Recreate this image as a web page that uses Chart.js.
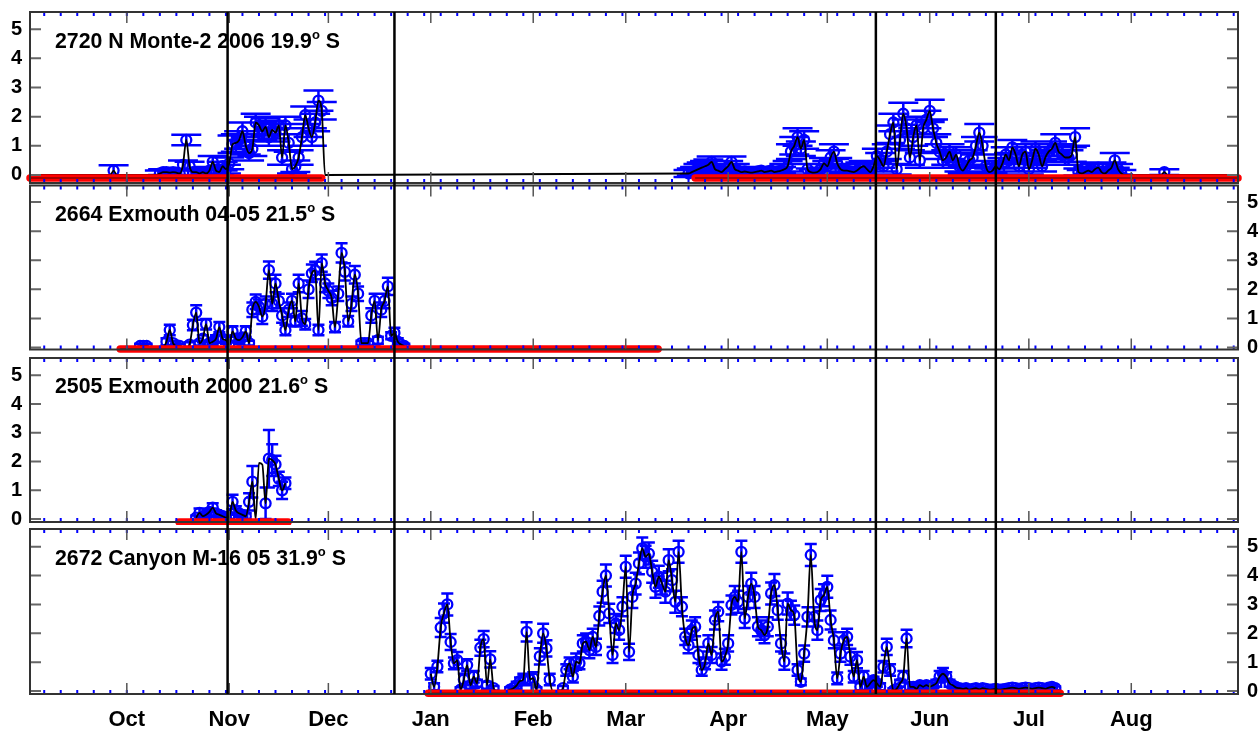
<!DOCTYPE html>
<html><head><meta charset="utf-8">
<script src="https://cdn.jsdelivr.net/npm/chart.js@4.4.1/dist/chart.umd.min.js"></script>
<style>
html,body{margin:0;padding:0;background:#fff;width:1260px;height:734px;overflow:hidden;}
canvas{position:absolute;left:0;display:block;}
.title{position:absolute;left:55px;font:bold 21.3px "Liberation Sans",Arial,sans-serif;color:#000;white-space:nowrap;line-height:21px;z-index:5;}
.title sup{font-size:13px;line-height:0;vertical-align:0;position:relative;top:-9px;}
</style></head><body>
<canvas id="c1" width="1260" height="184" style="top:0px"></canvas>
<canvas id="c2" width="1260" height="170" style="top:184px"></canvas>
<canvas id="c3" width="1260" height="171" style="top:354px"></canvas>
<canvas id="c4" width="1260" height="209" style="top:525px"></canvas>
<div class="title" style="top:31px">2720 N Monte-2 2006 19.9<sup>o</sup> S</div>
<div class="title" style="top:204px">2664 Exmouth 04-05 21.5<sup>o</sup> S</div>
<div class="title" style="top:376px">2505 Exmouth 2000 21.6<sup>o</sup> S</div>
<div class="title" style="top:548px">2672 Canyon M-16 05 31.9<sup>o</sup> S</div>
<script>
// ---- axis / category data (x = days since 1 Sep) ----
const monthNames = ['Oct','Nov','Dec','Jan','Feb','Mar','Apr','May','Jun','Jul','Aug'];
const monthStarts = [30,61,91,122,153,181,212,242,273,303,334];
const markerDays = [60.5,111,256.7,293];
const yTickValues = [0,1,2,3,4,5];

// ---- Panel 1: 2720 N Monte-2 2006 ----
const p1aStart = 24;
const p1aValues = [0,0,0.15,0,
 0,0,0,0,0,0,0,0,0,0,0,0,
 0.05,0.1,0.1,0.08,0.1,0.08,0.05,0.35,1.2,0.3,
 0.1,0.1,0.05,0.1,0.05,0.15,0.45,0.15,0.1,0.3,
 0.2,0.4,1.05,1.1,1.2,1.5,1.0,0.75,0.9,1.8,
 1.7,1.5,1.65,1.3,1.55,1.45,1.7,0.6,1.7,1.1,
 0.2,0.3,0.6,1.3,2.05,1.6,1.3,1.8,2.55,2.2,
 0];
const p1aErrors = [0,0,0.18,0,
 0,0,0,0,0,0,0,0,0,0,0,0,
 0.1,0.1,0.1,0.1,0.1,0.1,0.1,0.15,0.18,0.15,
 0.1,0.1,0.1,0.1,0.1,0.12,0.2,0.12,0.1,0.15,
 0.15,0.2,0.3,0.3,0.3,0.3,0.3,0.25,0.25,0.3,
 0.3,0.3,0.3,0.3,0.3,0.3,0.3,0.25,0.3,0.3,
 0.15,0.2,0.25,0.3,0.3,0.3,0.3,0.3,0.35,0.3,
 0];
const p1bStart = 200;
const p1bValues = [
 0.05,0.1,0.15,0.2,0.25,0.3,0.35,0.45,0.2,0.15,
 0.1,0.2,0.3,0.45,0.2,0.15,0.1,0.12,0.1,0.08,
 0.1,0.12,0.15,0.1,0.12,0.15,0.1,0.12,0.15,0.2,
 0.3,0.8,1.0,1.3,0.9,1.2,0.2,0.1,0.08,0.1,
 0.2,0.4,0.3,0.6,0.8,0.4,0.2,0.15,0.15,0.12,
 0.1,0.15,0.25,0.3,0.2,0.1,0.3,0.65,0.5,0.3,
 0.8,1.4,1.8,0.2,1.2,2.1,1.6,0.6,1.3,1.7,
 0.5,1.6,1.9,2.2,1.6,1.1,0.8,0.5,0.6,0.8,
 0.5,0.7,0.3,0.15,0.3,0.5,0.6,1.0,1.45,1.0,
 0.3,0.1,0.15,0.3,0.2,0.4,0.7,0.5,0.95,0.7,
 0.3,0.7,0.8,0.2,0.5,0.9,0.7,0.3,0.6,0.8,
 0.9,1.1,0.8,0.7,0.6,0.6,0.7,1.3,0.1,0.05,
 0.1,0.15,0.1,0.2,0.25,0.1,0.05,0.15,0.25,0.5,
 0.2,0.05,0,0,0,0,0,0,0,0,
 0,0,0,0,0.1,0];
const p1bErrors = [
 0.12,0.12,0.12,0.18,0.18,0.18,0.18,0.18,0.18,0.12,
 0.12,0.18,0.18,0.18,0.18,0.12,0.12,0.12,0.12,0.12,
 0.12,0.12,0.12,0.12,0.12,0.12,0.12,0.12,0.12,0.18,
 0.18,0.25,0.3,0.3,0.25,0.3,0.18,0.12,0.12,0.12,
 0.18,0.18,0.18,0.25,0.25,0.18,0.18,0.12,0.12,0.12,
 0.12,0.12,0.18,0.18,0.18,0.12,0.18,0.25,0.25,0.18,
 0.25,0.3,0.3,0.18,0.3,0.38,0.3,0.25,0.3,0.3,
 0.25,0.3,0.3,0.38,0.3,0.3,0.25,0.25,0.25,0.25,
 0.25,0.25,0.18,0.12,0.18,0.25,0.25,0.3,0.3,0.3,
 0.18,0.12,0.12,0.18,0.18,0.18,0.25,0.25,0.25,0.25,
 0.18,0.25,0.25,0.18,0.25,0.25,0.25,0.18,0.25,0.25,
 0.25,0.3,0.25,0.25,0.25,0.25,0.25,0.3,0.12,0.12,
 0.12,0.12,0.12,0.18,0.18,0.12,0.12,0.12,0.18,0.25,
 0.18,0.12,0,0,0,0,0,0,0,0,
 0,0,0,0,0.1,0];
const p1Coverage = [[0.7,89],[202,366.3]];

// ---- Panel 2: 2664 Exmouth 04-05 ----
const p2Start = 34;
const p2Values = [
 0.05,0.05,0.05,0,0,0,0,0,0.2,0.6,
 0.15,0.05,0.05,0,0,0.1,0.77,1.2,0.15,0.3,
 0.8,0.15,0.2,0.3,0.7,0.3,0.25,0.1,0.55,0.3,
 0.25,0.35,0.55,0.15,1.3,1.57,1.4,1.06,1.5,2.66,
 1.5,2.2,1.6,1.1,0.6,1.3,1.6,0.9,2.2,1.0,
 0.8,2.0,2.55,2.65,0.6,2.9,2.2,1.95,1.7,0.7,
 1.85,3.25,2.6,0.9,1.5,2.5,1.85,0.15,0.15,0.15,
 1.1,1.6,0.25,1.3,1.6,2.1,0.4,0.5,0.2,0.1,
 0.05];
const p2Errors = [
 0.08,0.08,0.08,0,0,0,0,0,0.12,0.18,
 0.08,0.08,0.08,0,0,0.08,0.18,0.25,0.08,0.12,
 0.18,0.08,0.12,0.12,0.18,0.12,0.12,0.08,0.18,0.12,
 0.12,0.12,0.18,0.08,0.25,0.25,0.25,0.25,0.25,0.3,
 0.25,0.3,0.25,0.25,0.18,0.25,0.25,0.18,0.3,0.25,
 0.18,0.3,0.3,0.3,0.18,0.3,0.3,0.25,0.25,0.18,
 0.25,0.33,0.3,0.18,0.25,0.3,0.25,0.08,0.08,0.08,
 0.25,0.25,0.12,0.25,0.25,0.3,0.12,0.18,0.12,0.08,
 0.08];
const p2Coverage = [[28,190.8]];

// ---- Panel 3: 2505 Exmouth 2000 ----
const p3Start = 51;
const p3Values = [0.05,0.22,0.1,0.15,0.25,0.4,0.2,0.15,0.1,0.05,0.1,0.6,0.3,0.2,0.15,0.1,0.6,1.3,0,1.95,1.9,0.55,2.1,2.05,1.9,1.4,1.0,1.25];
const p3Errors = [0.08,0.15,0.1,0.1,0.12,0.15,0.1,0.1,0.08,0.08,0.1,0.25,0.15,0.1,0.1,0.1,0.3,0.55,0,0,0,0.55,1.0,0.55,0.3,0.25,0.3,0.2];
const p3Coverage = [[45.8,78.8]];

// ---- Panel 4: 2672 Canyon M-16 05 ----
const p4Start = 122;
const p4Values = [
 0.6,0.15,0.85,2.2,2.7,3.0,1.7,0.96,1.07,0.05,
 0.4,0.9,0.2,0.5,0.27,1.5,1.8,0.2,1.1,0.1,
 0,0,0,0,0.05,0.1,0.2,0.35,0.4,2.05,
 0.4,0.45,0.05,1.2,2.0,1.48,0.4,0,0,0,
 0.1,0.73,0.96,0.5,1.02,0.96,1.65,1.71,1.42,1.88,
 1.53,2.6,3.44,4.0,2.69,1.25,2.34,2.11,2.92,4.3,
 1.36,3.26,3.72,4.42,4.94,4.65,4.76,4.13,3.61,3.96,
 3.72,3.44,4.53,3.84,3.09,4.82,2.92,1.88,1.59,2.11,
 2.23,1.25,0.73,0.96,1.65,1.25,2.46,2.75,1.02,1.19,
 1.65,2.98,3.26,3.09,4.82,2.51,3.26,3.72,3.26,2.23,
 2.11,1.94,2.23,3.38,3.67,2.8,1.65,1.02,3.03,2.8,
 2.63,0.73,0.32,1.3,2.57,4.71,2.57,2.11,3.15,3.32,
 3.61,2.46,1.76,0.44,1.3,1.76,1.88,1.19,0.5,1.07,
 0.15,0.5,0.15,0.27,0.38,0.27,0.15,0.84,1.53,0.73,
 0.02,0.08,0.27,0.5,1.82,0.15,0.15,0.08,0.21,0.15,
 0.21,0.15,0.2,0.27,0.5,0.6,0.5,0.27,0.2,0.12,
 0.1,0.08,0.1,0.05,0.08,0.1,0.06,0.1,0.08,0.05,
 0.06,0.08,0.05,0.06,0.08,0.1,0.12,0.1,0.08,0.1,
 0.12,0.1,0.08,0.1,0.12,0.1,0.08,0.12,0.15,0.1];
const p4Errors = [
 0.2,0.12,0.2,0.33,0.33,0.38,0.28,0.2,0.28,0.08,
 0.2,0.2,0.12,0.2,0.12,0.28,0.28,0.12,0.28,0.08,
 0,0,0,0,0.08,0.08,0.12,0.12,0.2,0.33,
 0.2,0.2,0.08,0.28,0.33,0.28,0.2,0,0,0,
 0.08,0.2,0.2,0.2,0.28,0.2,0.28,0.28,0.28,0.28,
 0.28,0.33,0.38,0.38,0.33,0.28,0.33,0.33,0.33,0.38,
 0.28,0.38,0.38,0.38,0.38,0.38,0.38,0.38,0.38,0.38,
 0.38,0.38,0.38,0.38,0.38,0.38,0.33,0.28,0.28,0.33,
 0.33,0.28,0.2,0.2,0.28,0.28,0.33,0.33,0.28,0.28,
 0.28,0.33,0.38,0.38,0.38,0.33,0.38,0.38,0.38,0.33,
 0.33,0.28,0.33,0.38,0.38,0.33,0.28,0.28,0.38,0.33,
 0.33,0.2,0.12,0.28,0.33,0.38,0.33,0.33,0.38,0.38,
 0.38,0.33,0.28,0.2,0.28,0.28,0.28,0.28,0.2,0.28,
 0.12,0.2,0.12,0.12,0.12,0.12,0.12,0.2,0.28,0.2,
 0.08,0.08,0.12,0.2,0.3,0.12,0.08,0.08,0.1,0.1,
 0.1,0.08,0.1,0.12,0.2,0.2,0.15,0.12,0.1,0.08,
 0.06,0.06,0.06,0.06,0.06,0.06,0.06,0.06,0.06,0.06,
 0.06,0.06,0.06,0.06,0.06,0.06,0.06,0.06,0.06,0.06,
 0.06,0.06,0.06,0.06,0.06,0.06,0.06,0.06,0.06,0.06];
const p4Coverage = [[121.2,312.5]];

// ---- rendering ----
const X_MIN = 0.7, X_MAX = 366.3;
const BLUE = '#0000ff';
const FONT = "'Liberation Sans', Arial, Helvetica, sans-serif";
Chart.defaults.font.family = FONT;

function toPoints(start, values, errors) {
  return values.map((v, i) => ({ x: start + i, y: v, e: errors[i] }));
}
function coverageLine(segs, yv) {
  const out = [];
  segs.forEach((s, i) => {
    if (i > 0) out.push({ x: (segs[i-1][1] + s[0]) / 2, y: null });
    out.push({ x: s[0], y: yv }, { x: s[1], y: yv });
  });
  return out;
}
function noPad(s) { s.paddingTop = 0; s.paddingBottom = 0; s.paddingLeft = 0; s.paddingRight = 0; }

function makeDecor(cfg, pts) {
  return {
    id: 'decor',
    beforeDatasetsDraw(chart) {
      const { ctx, chartArea: a } = chart;
      const xs = chart.scales.x, ys = chart.scales.y;
      ctx.save();
      ctx.beginPath(); ctx.rect(a.left, a.top, a.right - a.left, a.bottom - a.top); ctx.clip();
      ctx.strokeStyle = BLUE; ctx.lineWidth = 2.5;
      ctx.beginPath();
      pts.forEach(p => {
        if (!(p.e > 0)) return;
        const px = xs.getPixelForValue(p.x);
        const yt = ys.getPixelForValue(p.y + p.e);
        const yb = ys.getPixelForValue(p.y - p.e);
        ctx.moveTo(px, yt); ctx.lineTo(px, yb);
        ctx.moveTo(px - cfg.cap, yt); ctx.lineTo(px + cfg.cap, yt);
        ctx.moveTo(px - cfg.cap, yb); ctx.lineTo(px + cfg.cap, yb);
      });
      ctx.stroke();
      ctx.restore();
    },
    afterDatasetsDraw(chart) {
      const { ctx, chartArea: a } = chart;
      const xs = chart.scales.x, ys = chart.scales.y;
      ctx.save();
      ctx.strokeStyle = BLUE; ctx.lineWidth = 2;
      ctx.beginPath();
      for (let d = 5; d < X_MAX; d += 5) {
        const px = xs.getPixelForValue(d);
        ctx.moveTo(px, a.top); ctx.lineTo(px, a.top + 4);
        ctx.moveTo(px, a.bottom); ctx.lineTo(px, a.bottom - 4);
      }
      ctx.stroke();
      ctx.strokeStyle = '#555'; ctx.lineWidth = 1.5;
      ctx.beginPath();
      monthStarts.forEach(d => {
        const px = xs.getPixelForValue(d);
        ctx.moveTo(px, a.top); ctx.lineTo(px, a.top + 11);
        ctx.moveTo(px, a.bottom); ctx.lineTo(px, a.bottom - 11);
      });
      ctx.stroke();
      ctx.strokeStyle = '#666'; ctx.lineWidth = 2;
      ctx.beginPath();
      yTickValues.forEach(v => {
        const py = ys.getPixelForValue(v);
        ctx.moveTo(a.left, py); ctx.lineTo(a.left + 11, py);
        ctx.moveTo(a.right, py); ctx.lineTo(a.right - 11, py);
      });
      ctx.stroke();
      ctx.strokeStyle = '#333'; ctx.lineWidth = 2;
      ctx.strokeRect(a.left, a.top, a.right - a.left, a.bottom - a.top);
      ctx.strokeStyle = '#000'; ctx.lineWidth = 2.5;
      ctx.beginPath();
      markerDays.forEach(d => {
        const px = xs.getPixelForValue(d);
        ctx.moveTo(px, cfg.extendTop ? 0 : a.top);
        ctx.lineTo(px, cfg.extendBottom ? chart.height : a.bottom);
      });
      ctx.stroke();
      ctx.restore();
    }
  };
}

function makePanel(id, cfg) {
  const pts = [];
  cfg.runs.forEach(r => pts.push(...toPoints(r[0], r[1], r[2])));
  let linePts = pts.map(p => ({ x: p.x, y: p.y }));
  if (cfg.zeroEnds) linePts = [{ x: X_MIN, y: 0 }, ...linePts, { x: X_MAX, y: 0 }];
  const circles = pts.filter(p => p.e > 0);
  const cov = coverageLine(cfg.coverage, cfg.redY);
  const left = cfg.side === 'left';
  const xScale = cfg.showMonths ? {
    type: 'linear', min: X_MIN, max: X_MAX,
    grid: { display: false, drawTicks: false }, border: { display: false },
    afterBuildTicks(s) { s.ticks = monthStarts.map(v => ({ value: v })); },
    ticks: { autoSkip: false, maxRotation: 0, minRotation: 0, padding: 13, color: '#000',
      font: { family: FONT, size: 22, weight: 'bold' },
      callback: v => monthNames[monthStarts.indexOf(v)] },
    afterFit(s) { s.height = 40; noPad(s); }
  } : {
    type: 'linear', min: X_MIN, max: X_MAX,
    grid: { display: false, drawTicks: false }, border: { display: false },
    ticks: { display: false },
    afterFit(s) { s.height = 0; noPad(s); }
  };
  new Chart(document.getElementById(id), {
    type: 'line',
    data: { datasets: [
      { data: cov, borderColor: '#8a0000', borderWidth: 1.5, pointRadius: 0, clip: 10, spanGaps: false },
      { data: cov, borderColor: '#ff0000', borderWidth: 7.5, borderCapStyle: 'round', pointRadius: 0, clip: 10, spanGaps: false },
      { data: linePts, borderColor: '#000', borderWidth: 1.8, pointRadius: 0, cubicInterpolationMode: 'monotone' },
      { data: circles, showLine: false, pointRadius: 5, pointBorderWidth: 2.3, pointBorderColor: BLUE, pointBackgroundColor: 'rgba(0,0,0,0)' }
    ]},
    options: {
      responsive: false, animation: false, events: [],
      layout: { autoPadding: false, padding: { left: left ? 0 : 30, right: left ? 22 : 0, top: cfg.padTop, bottom: cfg.padBottom } },
      plugins: { legend: { display: false }, tooltip: { enabled: false } },
      scales: {
        x: xScale,
        y: {
          type: 'linear', min: cfg.yMin, max: cfg.yMax, position: cfg.side,
          grid: { display: false, drawTicks: false }, border: { display: false },
          afterBuildTicks(s) { s.ticks = yTickValues.map(v => ({ value: v })); },
          ticks: { autoSkip: false, padding: left ? 8 : 9, color: '#000', font: { family: FONT, size: 20, weight: 'bold' } },
          afterFit(s) { s.width = left ? 30 : 22; noPad(s); }
        }
      }
    },
    plugins: [makeDecor(cfg, pts)]
  });
}

makePanel('c1', { runs: [[p1aStart, p1aValues, p1aErrors], [p1bStart, p1bValues, p1bErrors]], zeroEnds: true,
  coverage: p1Coverage, redY: -0.1, side: 'left', yMin: -0.275, yMax: 5.59, padTop: 12, padBottom: 1,
  cap: 15, extendTop: false, extendBottom: true });
makePanel('c2', { runs: [[p2Start, p2Values, p2Errors]], coverage: p2Coverage, redY: -0.05, side: 'right',
  yMin: -0.07, yMax: 5.57, padTop: 1.5, padBottom: 4.5, cap: 6, extendTop: true, extendBottom: true });
makePanel('c3', { runs: [[p3Start, p3Values, p3Errors]], coverage: p3Coverage, redY: -0.1, side: 'left',
  yMin: -0.1, yMax: 5.6, padTop: 4, padBottom: 3, cap: 6, extendTop: true, extendBottom: true });
makePanel('c4', { runs: [[p4Start, p4Values, p4Errors]], coverage: p4Coverage, redY: -0.07, side: 'right',
  yMin: -0.1, yMax: 5.61, padTop: 4, padBottom: 0, cap: 6, extendTop: true, extendBottom: false, showMonths: true });
</script>
</body></html>
